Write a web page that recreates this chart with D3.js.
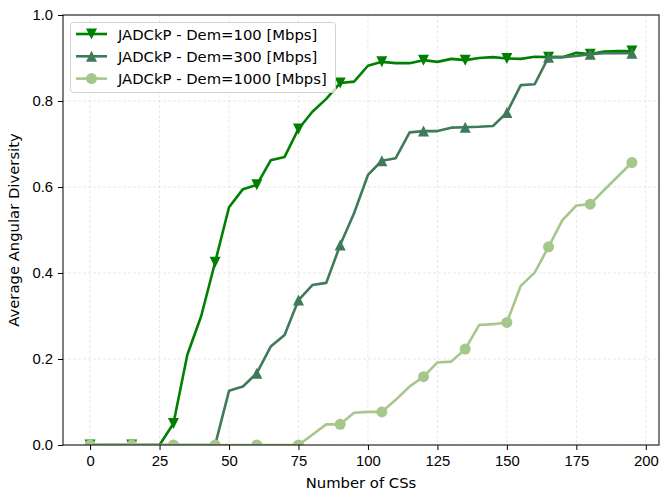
<!DOCTYPE html>
<html>
<head>
<meta charset="utf-8">
<script src="https://cdn.jsdelivr.net/npm/d3@7"></script>
<style>
  body { margin: 0; background: #fff; }
  svg { font-family: "DejaVu Sans", sans-serif; }
</style>
</head>
<body>
<div id="chart"></div>
<script>
const width = 660;
const height = 494;

// number of CSs, one sample every 5
const xs = d3.range(0, 200, 5);

const dem100 = [0, 0, 0, 0, 0, 0, 0.05, 0.21, 0.30, 0.425, 0.553, 0.595, 0.605, 0.662, 0.670, 0.735,
  0.775, 0.805, 0.842, 0.845, 0.882, 0.891, 0.888, 0.888, 0.895, 0.891, 0.898, 0.895, 0.900, 0.902,
  0.899, 0.898, 0.903, 0.902, 0.902, 0.912, 0.909, 0.915, 0.916, 0.916];
const dem300 = [0, 0, 0, 0, 0, 0, 0, 0, 0, 0, 0.126, 0.136, 0.167, 0.229, 0.256, 0.337,
  0.372, 0.377, 0.465, 0.539, 0.628, 0.661, 0.667, 0.727, 0.730, 0.730, 0.738, 0.739, 0.740, 0.742,
  0.773, 0.837, 0.839, 0.902, 0.902, 0.905, 0.909, 0.911, 0.911, 0.911];
const dem1000 = [0, 0, 0, 0, 0, 0, 0, 0, 0, 0, 0, 0, 0, 0, 0, 0,
  0.024, 0.048, 0.048, 0.075, 0.077, 0.077, 0.105, 0.136, 0.159, 0.192, 0.194, 0.223, 0.279, 0.281,
  0.285, 0.370, 0.401, 0.461, 0.523, 0.557, 0.560, 0.593, 0.625, 0.657];

const seriesNames = ["JADCkP - Dem=100 [Mbps]", "JADCkP - Dem=300 [Mbps]", "JADCkP - Dem=1000 [Mbps]"];
const seriesColors = ["#008000", "#3f7a59", "#a6c78b"];
const seriesMarkers = ["down", "up", "circle"];
const seriesValues = [dem100, dem300, dem1000];

const xTicks = [0, 25, 50, 75, 100, 125, 150, 175, 200];
const yTicks = [0, 0.2, 0.4, 0.6, 0.8, 1.0];

const fontSize = 14.8;
const margin = { left: 63, right: 1, top: 15, bottom: 49 };

const svg = d3.select("#chart")
  .append("svg")
  .attr("width", width)
  .attr("height", height);

const x = d3.scaleLinear().domain([-9.75, 204.75]).range([margin.left, width - margin.right]);
const y = d3.scaleLinear().domain([0, 1]).range([height - margin.bottom, margin.top]);

svg.append("defs").append("clipPath").attr("id", "clip")
  .append("rect")
  .attr("x", margin.left).attr("y", margin.top)
  .attr("width", width - margin.left - margin.right)
  .attr("height", height - margin.top - margin.bottom);

// grid
svg.append("g")
  .selectAll("line")
  .data(xTicks)
  .join("line")
  .attr("x1", d => x(d)).attr("x2", d => x(d))
  .attr("y1", margin.top).attr("y2", height - margin.bottom)
  .attr("stroke", "#e2e2e2").attr("stroke-width", 0.8).attr("stroke-dasharray", "3,2");
svg.append("g")
  .selectAll("line")
  .data(yTicks)
  .join("line")
  .attr("x1", margin.left).attr("x2", width - margin.right)
  .attr("y1", d => y(d)).attr("y2", d => y(d))
  .attr("stroke", "#e2e2e2").attr("stroke-width", 0.8).attr("stroke-dasharray", "3,2");

// series
const line = d3.line().x((d, i) => x(xs[i])).y(d => y(d));
const plot = svg.append("g").attr("clip-path", "url(#clip)");

function markerPath(type, size) {
  if (type === "circle") return d3.symbol(d3.symbolCircle, size * size * Math.PI / 4)();
  const s = size / 2;
  if (type === "up") return `M0,${-s}L${s},${s}L${-s},${s}Z`;
  return `M0,${s}L${s},${-s}L${-s},${-s}Z`;
}

seriesValues.forEach((vals, k) => {
  plot.append("path")
    .datum(vals)
    .attr("d", line)
    .attr("fill", "none")
    .attr("stroke", seriesColors[k])
    .attr("stroke-width", 2.6)
    .attr("stroke-linejoin", "round");
  plot.append("g")
    .selectAll("path")
    .data(vals.map((v, i) => [xs[i], v]).filter((d, i) => i % 3 === 0))
    .join("path")
    .attr("transform", d => `translate(${x(d[0])},${y(d[1])})`)
    .attr("d", markerPath(seriesMarkers[k], 11))
    .attr("fill", seriesColors[k]);
});

// axes
svg.append("g")
  .attr("transform", `translate(0,${height - margin.bottom})`)
  .call(d3.axisBottom(x).tickValues(xTicks).tickSize(5).tickPadding(5))
  .call(g => g.selectAll("text").attr("font-size", fontSize).attr("fill", "#000"))
  .call(g => g.select(".domain").remove());
svg.append("g")
  .attr("transform", `translate(${margin.left},0)`)
  .call(d3.axisLeft(y).tickValues(yTicks).tickFormat(d3.format(".1f")).tickSize(5).tickPadding(5))
  .call(g => g.selectAll("text").attr("font-size", fontSize).attr("fill", "#000"))
  .call(g => g.select(".domain").remove());

svg.append("rect")
  .attr("x", margin.left).attr("y", margin.top)
  .attr("width", width - margin.left - margin.right)
  .attr("height", height - margin.top - margin.bottom)
  .attr("fill", "none").attr("stroke", "#000").attr("stroke-width", 1);

svg.append("text")
  .attr("x", (margin.left + width - margin.right) / 2)
  .attr("y", 488)
  .attr("text-anchor", "middle")
  .attr("font-size", fontSize)
  .text("Number of CSs");
svg.append("text")
  .attr("transform", `translate(19,${(margin.top + height - margin.bottom) / 2}) rotate(-90)`)
  .attr("text-anchor", "middle")
  .attr("font-size", fontSize)
  .text("Average Angular Diversity");

// legend
const legend = svg.append("g");
legend.append("rect")
  .attr("x", 70.5).attr("y", 22.5).attr("width", 265).attr("height", 70).attr("rx", 3)
  .attr("fill", "#fff").attr("fill-opacity", 0.8).attr("stroke", "#d0d0d0");
seriesNames.forEach((name, k) => {
  const cy = 34 + k * 22.3;
  legend.append("line")
    .attr("x1", 76).attr("x2", 107).attr("y1", cy).attr("y2", cy)
    .attr("stroke", seriesColors[k]).attr("stroke-width", 2.6);
  legend.append("path")
    .attr("transform", `translate(91.5,${cy})`)
    .attr("d", markerPath(seriesMarkers[k], 11))
    .attr("fill", seriesColors[k]);
  legend.append("text")
    .attr("x", 118).attr("y", cy + 5.5)
    .attr("font-size", fontSize)
    .text(name);
});
</script>
</body>
</html>
